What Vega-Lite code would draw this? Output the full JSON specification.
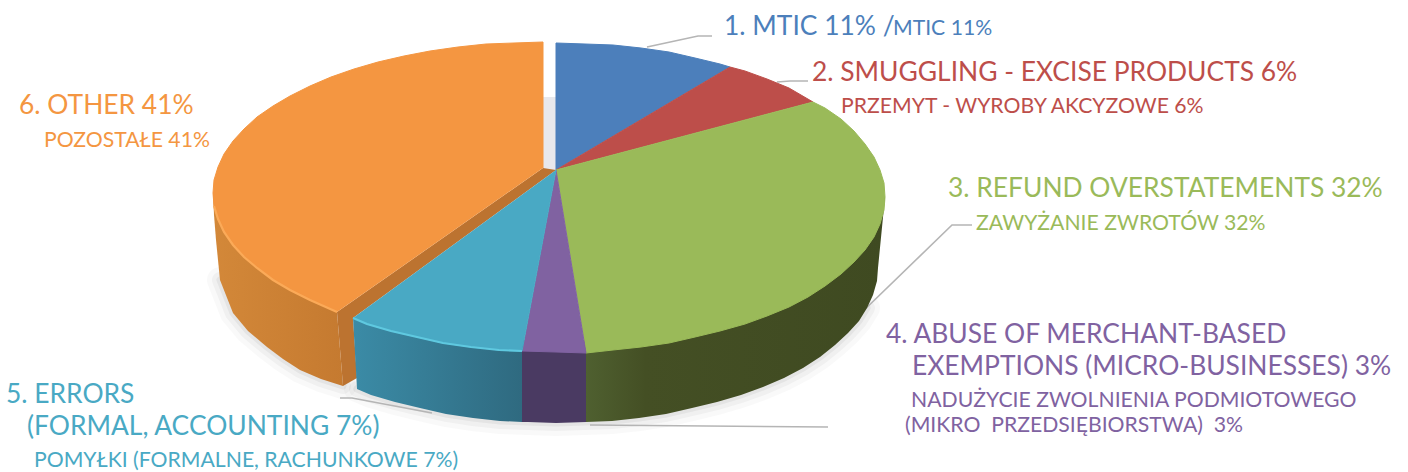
{"$schema":"https://vega.github.io/schema/vega-lite/v6.json","width":1408,"height":472,"padding":0,"autosize":"none","background":"white","view":{"stroke":null},
"datasets":{
"shapes":[
{"part":"gap","slice":"Other","x":543,"y":97},{"part":"gap","slice":"Other","x":556,"y":97},{"part":"gap","slice":"Other","x":556,"y":172},{"part":"gap","slice":"Other","x":543,"y":178},
{"part":"shadow","slice":"Other","x":220,"y":280},{"part":"shadow","slice":"Other","x":233,"y":313},{"part":"shadow","slice":"Other","x":248,"y":331},{"part":"shadow","slice":"Other","x":267,"y":347},{"part":"shadow","slice":"Other","x":283,"y":359},{"part":"shadow","slice":"Other","x":300,"y":370},{"part":"shadow","slice":"Other","x":321,"y":379},{"part":"shadow","slice":"Other","x":343,"y":386},
{"part":"shadow","slice":"Refund","x":357,"y":389},{"part":"shadow","slice":"Refund","x":371,"y":395},{"part":"shadow","slice":"Refund","x":395,"y":402},{"part":"shadow","slice":"Refund","x":420,"y":408},{"part":"shadow","slice":"Refund","x":446,"y":414},{"part":"shadow","slice":"Refund","x":473,"y":418},{"part":"shadow","slice":"Refund","x":500,"y":421},{"part":"shadow","slice":"Refund","x":528,"y":422},{"part":"shadow","slice":"Refund","x":556,"y":423},{"part":"shadow","slice":"Refund","x":584,"y":422},{"part":"shadow","slice":"Refund","x":612,"y":421},{"part":"shadow","slice":"Refund","x":639,"y":418},{"part":"shadow","slice":"Refund","x":666,"y":414},{"part":"shadow","slice":"Refund","x":692,"y":408},{"part":"shadow","slice":"Refund","x":717,"y":402},{"part":"shadow","slice":"Refund","x":741,"y":395},{"part":"shadow","slice":"Refund","x":763,"y":387},{"part":"shadow","slice":"Refund","x":784,"y":378},{"part":"shadow","slice":"Refund","x":803,"y":368},{"part":"shadow","slice":"Refund","x":820,"y":357},{"part":"shadow","slice":"Refund","x":835,"y":345},{"part":"shadow","slice":"Refund","x":848,"y":333},{"part":"shadow","slice":"Refund","x":859,"y":321},{"part":"shadow","slice":"Refund","x":867,"y":308},
{"part":"wallOther","slice":"Other","x":213,"y":193},{"part":"wallOther","slice":"Other","x":214,"y":215},{"part":"wallOther","slice":"Other","x":216,"y":240},{"part":"wallOther","slice":"Other","x":220,"y":280},{"part":"wallOther","slice":"Other","x":233,"y":313},{"part":"wallOther","slice":"Other","x":248,"y":331},{"part":"wallOther","slice":"Other","x":267,"y":347},{"part":"wallOther","slice":"Other","x":283,"y":359},{"part":"wallOther","slice":"Other","x":300,"y":370},{"part":"wallOther","slice":"Other","x":321,"y":379},{"part":"wallOther","slice":"Other","x":343,"y":386},{"part":"wallOther","slice":"Other","x":337,"y":312},
{"part":"cutOther","slice":"Other","x":543,"y":168},{"part":"cutOther","slice":"Other","x":337,"y":312},{"part":"cutOther","slice":"Other","x":343,"y":386},{"part":"cutOther","slice":"Other","x":357,"y":378},{"part":"cutOther","slice":"Other","x":353,"y":318},{"part":"cutOther","slice":"Other","x":556,"y":170},
{"part":"wallErrors","slice":"Errors","x":522,"y":340},{"part":"wallErrors","slice":"Errors","x":522,"y":422},{"part":"wallErrors","slice":"Errors","x":500,"y":421},{"part":"wallErrors","slice":"Errors","x":473,"y":418},{"part":"wallErrors","slice":"Errors","x":446,"y":414},{"part":"wallErrors","slice":"Errors","x":420,"y":408},{"part":"wallErrors","slice":"Errors","x":395,"y":402},{"part":"wallErrors","slice":"Errors","x":371,"y":395},{"part":"wallErrors","slice":"Errors","x":357,"y":389},{"part":"wallErrors","slice":"Errors","x":353,"y":318},
{"part":"wallAbuse","slice":"Abuse","x":586,"y":340},{"part":"wallAbuse","slice":"Abuse","x":586,"y":422},{"part":"wallAbuse","slice":"Abuse","x":556,"y":423},{"part":"wallAbuse","slice":"Abuse","x":528,"y":422},{"part":"wallAbuse","slice":"Abuse","x":522,"y":422},{"part":"wallAbuse","slice":"Abuse","x":522,"y":340},
{"part":"wallRefund","slice":"Refund","x":586,"y":300},{"part":"wallRefund","slice":"Refund","x":885,"y":197},{"part":"wallRefund","slice":"Refund","x":878,"y":268},{"part":"wallRefund","slice":"Refund","x":877,"y":281},{"part":"wallRefund","slice":"Refund","x":873,"y":295},{"part":"wallRefund","slice":"Refund","x":867,"y":308},{"part":"wallRefund","slice":"Refund","x":859,"y":321},{"part":"wallRefund","slice":"Refund","x":848,"y":333},{"part":"wallRefund","slice":"Refund","x":835,"y":345},{"part":"wallRefund","slice":"Refund","x":820,"y":357},{"part":"wallRefund","slice":"Refund","x":803,"y":368},{"part":"wallRefund","slice":"Refund","x":784,"y":378},{"part":"wallRefund","slice":"Refund","x":763,"y":387},{"part":"wallRefund","slice":"Refund","x":741,"y":395},{"part":"wallRefund","slice":"Refund","x":717,"y":402},{"part":"wallRefund","slice":"Refund","x":692,"y":408},{"part":"wallRefund","slice":"Refund","x":666,"y":414},{"part":"wallRefund","slice":"Refund","x":639,"y":418},{"part":"wallRefund","slice":"Refund","x":612,"y":421},{"part":"wallRefund","slice":"Refund","x":586,"y":422},
{"part":"top","slice":"MTIC","x":556,"y":170},{"part":"top","slice":"MTIC","x":556,"y":43},{"part":"top","slice":"MTIC","x":585,"y":44},{"part":"top","slice":"MTIC","x":613,"y":45},{"part":"top","slice":"MTIC","x":641,"y":48},{"part":"top","slice":"MTIC","x":669,"y":52},{"part":"top","slice":"MTIC","x":695,"y":58},{"part":"top","slice":"MTIC","x":720,"y":64},{"part":"top","slice":"MTIC","x":730,"y":67},
{"part":"top","slice":"Smuggling","x":556,"y":170},{"part":"top","slice":"Smuggling","x":730,"y":67},{"part":"top","slice":"Smuggling","x":745,"y":71},{"part":"top","slice":"Smuggling","x":767,"y":79},{"part":"top","slice":"Smuggling","x":789,"y":88},{"part":"top","slice":"Smuggling","x":813,"y":102},
{"part":"top","slice":"Refund","x":556,"y":170},{"part":"top","slice":"Refund","x":813,"y":102},{"part":"top","slice":"Refund","x":825,"y":108},{"part":"top","slice":"Refund","x":841,"y":119},{"part":"top","slice":"Refund","x":854,"y":131},{"part":"top","slice":"Refund","x":865,"y":144},{"part":"top","slice":"Refund","x":874,"y":157},{"part":"top","slice":"Refund","x":880,"y":170},{"part":"top","slice":"Refund","x":884,"y":183},{"part":"top","slice":"Refund","x":885,"y":197},{"part":"top","slice":"Refund","x":884,"y":210},{"part":"top","slice":"Refund","x":880,"y":224},{"part":"top","slice":"Refund","x":874,"y":237},{"part":"top","slice":"Refund","x":865,"y":250},{"part":"top","slice":"Refund","x":854,"y":262},{"part":"top","slice":"Refund","x":841,"y":274},{"part":"top","slice":"Refund","x":825,"y":286},{"part":"top","slice":"Refund","x":808,"y":297},{"part":"top","slice":"Refund","x":789,"y":307},{"part":"top","slice":"Refund","x":767,"y":316},{"part":"top","slice":"Refund","x":745,"y":324},{"part":"top","slice":"Refund","x":720,"y":331},{"part":"top","slice":"Refund","x":695,"y":337},{"part":"top","slice":"Refund","x":669,"y":343},{"part":"top","slice":"Refund","x":641,"y":347},{"part":"top","slice":"Refund","x":613,"y":350},{"part":"top","slice":"Refund","x":586,"y":353},
{"part":"top","slice":"Abuse","x":556,"y":170},{"part":"top","slice":"Abuse","x":586,"y":353},{"part":"top","slice":"Abuse","x":556,"y":352},{"part":"top","slice":"Abuse","x":522,"y":351},
{"part":"top","slice":"Errors","x":556,"y":170},{"part":"top","slice":"Errors","x":522,"y":351},{"part":"top","slice":"Errors","x":499,"y":350},{"part":"top","slice":"Errors","x":471,"y":347},{"part":"top","slice":"Errors","x":443,"y":343},{"part":"top","slice":"Errors","x":417,"y":337},{"part":"top","slice":"Errors","x":391,"y":331},{"part":"top","slice":"Errors","x":367,"y":324},{"part":"top","slice":"Errors","x":353,"y":318},
{"part":"top","slice":"Other","x":543,"y":168},{"part":"top","slice":"Other","x":543,"y":42},{"part":"top","slice":"Other","x":514,"y":43},{"part":"top","slice":"Other","x":486,"y":44},{"part":"top","slice":"Other","x":458,"y":47},{"part":"top","slice":"Other","x":430,"y":51},{"part":"top","slice":"Other","x":404,"y":56},{"part":"top","slice":"Other","x":378,"y":62},{"part":"top","slice":"Other","x":354,"y":69},{"part":"top","slice":"Other","x":331,"y":77},{"part":"top","slice":"Other","x":310,"y":86},{"part":"top","slice":"Other","x":290,"y":96},{"part":"top","slice":"Other","x":273,"y":106},{"part":"top","slice":"Other","x":257,"y":117},{"part":"top","slice":"Other","x":244,"y":129},{"part":"top","slice":"Other","x":233,"y":141},{"part":"top","slice":"Other","x":224,"y":154},{"part":"top","slice":"Other","x":218,"y":167},{"part":"top","slice":"Other","x":214,"y":180},{"part":"top","slice":"Other","x":213,"y":193},{"part":"top","slice":"Other","x":214,"y":206},{"part":"top","slice":"Other","x":218,"y":219},{"part":"top","slice":"Other","x":224,"y":232},{"part":"top","slice":"Other","x":233,"y":245},{"part":"top","slice":"Other","x":244,"y":257},{"part":"top","slice":"Other","x":257,"y":268},{"part":"top","slice":"Other","x":273,"y":280},{"part":"top","slice":"Other","x":290,"y":290},{"part":"top","slice":"Other","x":310,"y":300},{"part":"top","slice":"Other","x":337,"y":312},
{"part":"rimOther","slice":"Other","x":214,"y":206},{"part":"rimOther","slice":"Other","x":218,"y":219},{"part":"rimOther","slice":"Other","x":224,"y":232},{"part":"rimOther","slice":"Other","x":233,"y":245},{"part":"rimOther","slice":"Other","x":244,"y":257},{"part":"rimOther","slice":"Other","x":257,"y":268},{"part":"rimOther","slice":"Other","x":273,"y":280},{"part":"rimOther","slice":"Other","x":290,"y":290},{"part":"rimOther","slice":"Other","x":310,"y":300},{"part":"rimOther","slice":"Other","x":337,"y":312},
{"part":"rimErrors","slice":"Errors","x":353,"y":318},{"part":"rimErrors","slice":"Errors","x":367,"y":324},{"part":"rimErrors","slice":"Errors","x":391,"y":331},{"part":"rimErrors","slice":"Errors","x":417,"y":337},{"part":"rimErrors","slice":"Errors","x":443,"y":343},{"part":"rimErrors","slice":"Errors","x":471,"y":347},{"part":"rimErrors","slice":"Errors","x":499,"y":350},{"part":"rimErrors","slice":"Errors","x":522,"y":351}
],
"leaders":[
{"slice":"MTIC","x":647,"y":47},{"slice":"MTIC","x":698,"y":36},{"slice":"MTIC","x":712,"y":36},
{"slice":"Smuggling","x":777,"y":82},{"slice":"Smuggling","x":790,"y":81},{"slice":"Smuggling","x":808,"y":81},
{"slice":"Refund","x":857,"y":317},{"slice":"Refund","x":952,"y":225},{"slice":"Refund","x":972,"y":225},
{"slice":"Abuse","x":590,"y":425},{"slice":"Abuse","x":828,"y":427},
{"slice":"Errors","x":340,"y":398},{"slice":"Errors","x":352,"y":398},{"slice":"Errors","x":432,"y":413}
],
"labels":[
{"slice":"MTIC","level":"en","share":11,"text":"1. MTIC 11% /","x":724,"y":35},
{"slice":"MTIC","level":"pl","share":11,"text":"MTIC 11%","x":893,"y":35},
{"slice":"Smuggling","level":"en","share":6,"text":"2. SMUGGLING - EXCISE PRODUCTS 6%","x":812,"y":81},
{"slice":"Smuggling","level":"pl","share":6,"text":"PRZEMYT - WYROBY AKCYZOWE 6%","x":841,"y":113},
{"slice":"Refund","level":"en","share":32,"text":"3. REFUND OVERSTATEMENTS 32%","x":948,"y":197},
{"slice":"Refund","level":"pl","share":32,"text":"ZAWYŻANIE ZWROTÓW 32%","x":976,"y":230},
{"slice":"Abuse","level":"en","share":3,"text":"4. ABUSE OF MERCHANT-BASED","x":886,"y":343},
{"slice":"Abuse","level":"en","share":3,"text":"EXEMPTIONS (MICRO-BUSINESSES) 3%","x":912,"y":375},
{"slice":"Abuse","level":"pl","share":3,"text":"NADUŻYCIE ZWOLNIENIA PODMIOTOWEGO","x":911,"y":407},
{"slice":"Abuse","level":"pl","share":3,"text":"(MIKRO\u00a0 PRZEDSIĘBIORSTWA)\u00a0 3%","x":905,"y":432},
{"slice":"Errors","level":"en","share":7,"text":"5. ERRORS","x":6,"y":403},
{"slice":"Errors","level":"en","share":7,"text":"(FORMAL, ACCOUNTING 7%)","x":27,"y":435},
{"slice":"Errors","level":"pl","share":7,"text":"POMYŁKI (FORMALNE, RACHUNKOWE 7%)","x":34,"y":467},
{"slice":"Other","level":"en","share":41,"text":"6. OTHER 41%","x":19,"y":114},
{"slice":"Other","level":"pl","share":41,"text":"POZOSTAŁE 41%","x":44,"y":147}
]},
"encoding":{
"x":{"field":"x","type":"quantitative","scale":{"domain":[0,1408],"nice":false,"zero":false},"axis":null},
"y":{"field":"y","type":"quantitative","scale":{"domain":[0,472],"nice":false,"zero":false,"reverse":true},"axis":null}
},
"layer":[
{"data":{"name":"shapes"},"transform":[{"filter":"datum.part==='shadow'"}],"mark":{"type":"line","stroke":"#555555","strokeWidth":26,"opacity":0.035,"strokeCap":"round"},"encoding":{"order":{"value":null},"detail":{"field":"slice"}}},
{"data":{"name":"shapes"},"transform":[{"filter":"datum.part==='shadow'"}],"mark":{"type":"line","stroke":"#555555","strokeWidth":16,"opacity":0.05,"strokeCap":"round"},"encoding":{"order":{"value":null},"detail":{"field":"slice"}}},
{"data":{"name":"shapes"},"transform":[{"filter":"datum.part==='shadow'"}],"mark":{"type":"line","stroke":"#555555","strokeWidth":7,"opacity":0.08,"strokeCap":"round"},"encoding":{"order":{"value":null},"detail":{"field":"slice"}}},
{"data":{"name":"leaders"},"mark":{"type":"line","stroke":"#b5b5b5","strokeWidth":1.6},"encoding":{"order":{"value":null},"detail":{"field":"slice"}}},
{"data":{"name":"shapes"},"transform":[{"filter":"datum.part==='gap'"}],"mark":{"type":"line","filled":true,"fill":"#e8e8ec","stroke":null},"encoding":{"order":{"value":null}}},
{"data":{"name":"shapes"},"transform":[{"filter":"datum.part==='wallOther'"}],"mark":{"type":"line","filled":true,"stroke":null,"fill":{"gradient":"linear","x1":0,"y1":0,"x2":1,"y2":0,"stops":[{"offset":0,"color":"#d38839"},{"offset":1,"color":"#c57a30"}]}},"encoding":{"order":{"value":null}}},
{"data":{"name":"shapes"},"transform":[{"filter":"datum.part==='cutOther'"}],"mark":{"type":"line","filled":true,"fill":"#bc7330","stroke":null},"encoding":{"order":{"value":null}}},
{"data":{"name":"shapes"},"transform":[{"filter":"datum.part==='wallErrors'"}],"mark":{"type":"line","filled":true,"stroke":null,"fill":{"gradient":"linear","x1":0,"y1":0,"x2":1,"y2":0,"stops":[{"offset":0,"color":"#3b8ba6"},{"offset":1,"color":"#2f6a80"}]}},"encoding":{"order":{"value":null}}},
{"data":{"name":"shapes"},"transform":[{"filter":"datum.part==='wallAbuse'"}],"mark":{"type":"line","filled":true,"fill":"#4a3a62","stroke":null},"encoding":{"order":{"value":null}}},
{"data":{"name":"shapes"},"transform":[{"filter":"datum.part==='wallRefund'"}],"mark":{"type":"line","filled":true,"stroke":null,"fill":{"gradient":"linear","x1":0,"y1":0,"x2":1,"y2":0,"stops":[{"offset":0,"color":"#4f6030"},{"offset":0.2,"color":"#444f24"},{"offset":1,"color":"#3f4a21"}]}},"encoding":{"order":{"value":null}}},
{"data":{"name":"shapes"},"transform":[{"filter":"datum.part==='top'"}],"mark":{"type":"line","filled":true,"strokeWidth":1},"encoding":{"order":{"value":null},
"fill":{"field":"slice","type":"nominal","legend":null,"scale":{"domain":["MTIC","Smuggling","Refund","Abuse","Errors","Other"],"range":["#4c7fbb","#bd4e4a","#9aba59","#8062a1","#49a9c4","#f49641"]}},
"stroke":{"field":"slice","type":"nominal","legend":null,"scale":{"domain":["MTIC","Smuggling","Refund","Abuse","Errors","Other"],"range":["#4c7fbb","#bd4e4a","#9aba59","#8062a1","#49a9c4","#f49641"]}}}},
{"data":{"name":"shapes"},"transform":[{"filter":"datum.part==='rimOther'"}],"mark":{"type":"line","stroke":"#fbaa58","strokeWidth":2.2},"encoding":{"order":{"value":null}}},
{"data":{"name":"shapes"},"transform":[{"filter":"datum.part==='rimErrors'"}],"mark":{"type":"line","stroke":"#5fc9e0","strokeWidth":2.2},"encoding":{"order":{"value":null}}},
{"data":{"name":"labels"},"transform":[{"filter":"datum.level==='en'"}],"mark":{"type":"text","font":"Lato","fontWeight":400,"fontSize":26.4,"align":"left","baseline":"alphabetic"},"encoding":{"text":{"field":"text"},"fill":{"field":"slice","type":"nominal","legend":null,"scale":{"domain":["MTIC","Smuggling","Refund","Abuse","Errors","Other"],"range":["#4c7fbb","#bd4e4a","#9aba59","#8062a1","#49a9c4","#f49641"]}}}},
{"data":{"name":"labels"},"transform":[{"filter":"datum.level==='pl'"}],"mark":{"type":"text","font":"Lato","fontWeight":400,"fontSize":21.2,"align":"left","baseline":"alphabetic"},"encoding":{"text":{"field":"text"},"fill":{"field":"slice","type":"nominal","legend":null,"scale":{"domain":["MTIC","Smuggling","Refund","Abuse","Errors","Other"],"range":["#4c7fbb","#bd4e4a","#9aba59","#8062a1","#49a9c4","#f49641"]}}}}
]}
